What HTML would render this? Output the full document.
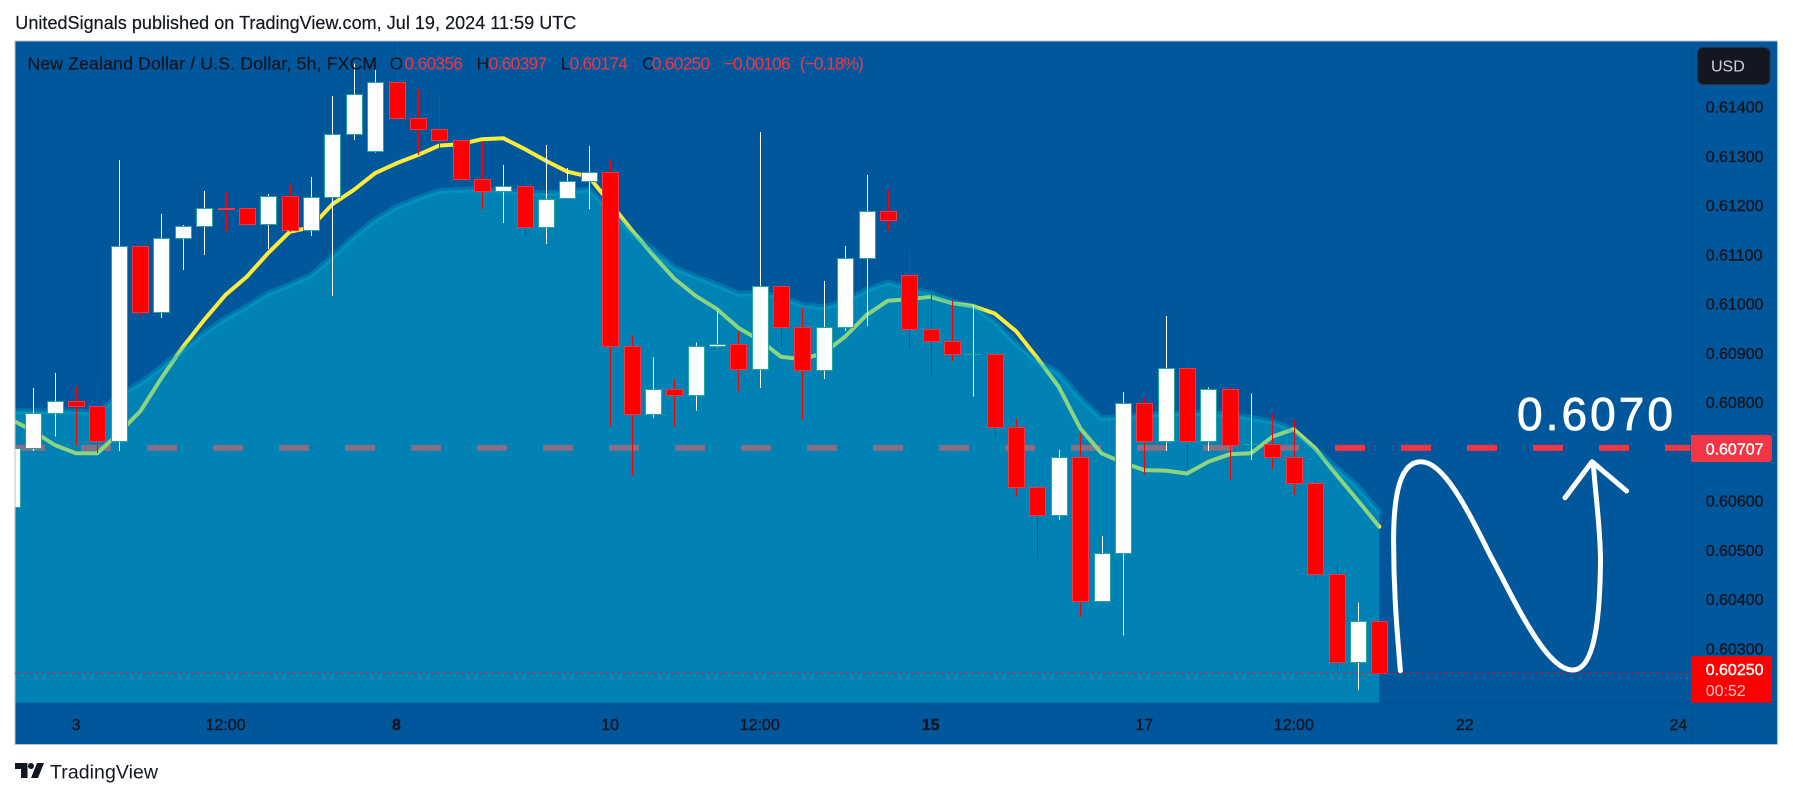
<!DOCTYPE html>
<html lang="en">
<head>
<meta charset="utf-8">
<title>NZD/USD chart</title>
<style>
html,body{margin:0;padding:0;background:#fff;width:1793px;height:798px;overflow:hidden}
svg{display:block;font-family:"Liberation Sans",sans-serif}
</style>
</head>
<body>
<svg id="chart" xmlns="http://www.w3.org/2000/svg" width="1793" height="798" viewBox="0 0 1793 798">
  <defs>
    <clipPath id="pane-clip"><rect x="15.5" y="41.5" width="1675.5" height="661.2"/></clipPath>
  </defs>
  <text x="15.3" y="29" font-size="18" fill="#131722" stroke="#131722" stroke-width="0.2" textLength="561" lengthAdjust="spacing">UnitedSignals published on TradingView.com, Jul 19, 2024 11:59 UTC</text>
  <rect x="15" y="41" width="1762.5" height="703.5" fill="#00579c" stroke="#b7c1d0" stroke-width="1"/>
  <g id="under-area" clip-path="url(#pane-clip)"></g>
  <g id="area-layer" clip-path="url(#pane-clip)"></g>
  <g id="candle-layer" clip-path="url(#pane-clip)"></g>
  <g id="overlay-layer"></g>
  <line x1="1691" y1="41.5" x2="1691" y2="744" stroke="#00508f" stroke-width="1"/>
  <line x1="1379" y1="702.7" x2="1777" y2="702.7" stroke="#00508f" stroke-width="1"/>
  <g font-size="17.5">
    <text x="27.5" y="69.5" fill="#131722" stroke="#131722" stroke-width="0.3" textLength="349.5" lengthAdjust="spacing">New Zealand Dollar / U.S. Dollar, 5h, FXCM</text>
    <text x="389.6" y="69.5" fill="#131722">O</text>
    <text x="404.5" y="69.5" fill="#f23645" textLength="58.5">0.60356</text>
    <text x="476.5" y="69.5" fill="#131722">H</text>
    <text x="488.7" y="69.5" fill="#f23645" textLength="58.5">0.60397</text>
    <text x="560.6" y="69.5" fill="#131722">L</text>
    <text x="569.5" y="69.5" fill="#f23645" textLength="58.5">0.60174</text>
    <text x="642" y="69.5" fill="#131722">C</text>
    <text x="651.7" y="69.5" fill="#f23645" textLength="58.5">0.60250</text>
    <text x="723.6" y="69.5" fill="#f23645" textLength="67">−0.00106</text>
    <text x="799.8" y="69.5" fill="#f23645" textLength="64">(−0.18%)</text>
  </g>
  <g id="axis-labels" font-size="16" fill="#131722" stroke="#131722" stroke-width="0.4"></g>
  <g>
    <rect x="1697.5" y="47.5" width="72.5" height="37" rx="6" fill="#131722" stroke="#2a2e39" stroke-width="1"/>
    <text x="1711" y="71.5" font-size="16" fill="#d1d4dc">USD</text>
  </g>
  <g>
    <path d="M1691 435 H1769 a3 3 0 0 1 3 3 V459 a3 3 0 0 1 -3 3 H1691 Z" fill="#f23645"/>
    <text x="1705.7" y="454.5" font-size="16" fill="#fff" stroke="#fff" stroke-width="0.4">0.60707</text>
  </g>
  <g>
    <rect x="1691" y="656" width="81" height="46.7" fill="#ff0000"/>
    <text x="1705.7" y="675" font-size="16" fill="#fff" stroke="#fff" stroke-width="0.4">0.60250</text>
    <text x="1705.7" y="696" font-size="16" fill="#ffc4c4">00:52</text>
  </g>
  <g fill="none" stroke="#fff" stroke-width="5" stroke-linecap="round" stroke-linejoin="round">
    <path d="M1400.4 670.7 C1396 620 1393.6 585 1393.6 540 C1393.6 495 1400 461.7 1421 461.7 C1445 461.7 1470 515 1491 556.7 C1512 595 1545 670 1572.5 670 C1592 670 1600 630 1600.5 560 C1600.5 530 1595 490 1593.3 463.3"/>
    <path d="M1565 497.7 L1592 461.7 L1626.6 491"/>
  </g>
  <text x="1517" y="430" font-size="46" fill="#fff" stroke="#fff" stroke-width="0.8" textLength="156" lengthAdjust="spacing">0.6070</text>
  <g>
    <path d="M15 763 H27.5 V778 H21 V769 H15 Z M37 763 H44 L38 778 H31 Z" fill="#131722"/>
    <circle cx="31" cy="766" r="3" fill="#131722"/>
    <text x="50" y="778.5" font-size="19.5" fill="#131722" textLength="108" lengthAdjust="spacing">TradingView</text>
  </g>
</svg>
<script>
// Bars run from index -1 (partly clipped at the left edge) up to 63.
const opens = [0.60587,0.60706,0.60777,0.60803,0.60793,0.60721,0.61118,0.60984,0.61134,0.61157,0.61195,0.61194,0.61161,0.61218,0.61150,0.61216,0.61344,0.61311,0.61451,0.61378,0.61354,0.61332,0.61254,0.61228,0.61238,0.61155,0.61214,0.61250,0.61268,0.60913,0.60775,0.60826,0.60815,0.60913,0.60919,0.60868,0.61035,0.60952,0.60865,0.60952,0.61092,0.61188,0.61058,0.60948,0.60925,0.60897,0.60897,0.60749,0.60627,0.60570,0.60688,0.60397,0.60494,0.60798,0.60722,0.60870,0.60721,0.60826,0.60714,0.60714,0.60688,0.60635,0.60450,0.60272,0.60356];
const highs = [0.60706,0.60829,0.60859,0.60833,0.60847,0.61292,0.61118,0.61182,0.61160,0.61229,0.61227,0.61200,0.61223,0.61243,0.61257,0.61422,0.61488,0.61475,0.61560,0.61436,0.61424,0.61344,0.61329,0.61282,0.61271,0.61322,0.61275,0.61320,0.61293,0.60936,0.60891,0.60847,0.60921,0.60985,0.60943,0.61349,0.61039,0.60991,0.61046,0.61117,0.61261,0.61231,0.61110,0.61021,0.61005,0.60997,0.60899,0.60767,0.60634,0.60703,0.60737,0.60528,0.60821,0.60808,0.60975,0.60894,0.60830,0.60830,0.60818,0.60776,0.60764,0.60642,0.60473,0.60393,0.60397];
const lows = [0.60587,0.60701,0.60730,0.60711,0.60697,0.60701,0.60976,0.60971,0.61068,0.61099,0.61147,0.61157,0.61111,0.61146,0.61137,0.61016,0.61332,0.61307,0.61374,0.61302,0.61305,0.61233,0.61192,0.61164,0.61139,0.61121,0.61214,0.61192,0.60750,0.60651,0.60768,0.60750,0.60783,0.60911,0.60823,0.60829,0.60913,0.60765,0.60847,0.60944,0.60955,0.61148,0.60908,0.60852,0.60884,0.60811,0.60728,0.60608,0.60481,0.60561,0.60364,0.60397,0.60326,0.60653,0.60701,0.60664,0.60701,0.60643,0.60682,0.60664,0.60611,0.60435,0.60255,0.60215,0.60174];
const closes = [0.60706,0.60777,0.60803,0.60793,0.60721,0.61118,0.60984,0.61134,0.61157,0.61195,0.61194,0.61161,0.61218,0.61150,0.61216,0.61344,0.61426,0.61451,0.61378,0.61354,0.61332,0.61254,0.61228,0.61238,0.61155,0.61213,0.61250,0.61268,0.60913,0.60775,0.60826,0.60815,0.60913,0.60919,0.60868,0.61035,0.60952,0.60865,0.60952,0.61092,0.61188,0.61170,0.60948,0.60925,0.60897,0.60897,0.60749,0.60627,0.60570,0.60688,0.60397,0.60494,0.60798,0.60722,0.60870,0.60721,0.60826,0.60713,0.60714,0.60688,0.60635,0.60450,0.60272,0.60356,0.60250];
const fastAverage = [0.60764,0.60741,0.60713,0.60696,0.60696,0.60737,0.60781,0.60849,0.60912,0.60967,0.61018,0.61055,0.61103,0.61146,0.61155,0.61202,0.61231,0.61265,0.61285,0.61302,0.61321,0.61324,0.61334,0.61336,0.61314,0.61290,0.61268,0.61258,0.61204,0.61150,0.61099,0.61051,0.61016,0.60989,0.60951,0.60926,0.60892,0.60887,0.60900,0.60933,0.60977,0.61006,0.61009,0.61014,0.61001,0.60995,0.60980,0.60944,0.60889,0.60831,0.60747,0.60696,0.60677,0.60662,0.60661,0.60655,0.60679,0.60694,0.60696,0.60730,0.60745,0.60706,0.60652,0.60600,0.60547];
const slowAverage = [0.60781,0.60781,0.60781,0.60781,0.60777,0.60814,0.60838,0.60871,0.60906,0.60940,0.60970,0.60994,0.61021,0.61038,0.61058,0.61095,0.61136,0.61170,0.61196,0.61214,0.61229,0.61231,0.61232,0.61229,0.61225,0.61224,0.61227,0.61232,0.61190,0.61146,0.61109,0.61073,0.61055,0.61038,0.61020,0.61021,0.61014,0.60997,0.60993,0.61004,0.61028,0.61043,0.61031,0.61021,0.61004,0.60995,0.60963,0.60919,0.60882,0.60859,0.60808,0.60767,0.60770,0.60774,0.60777,0.60778,0.60778,0.60774,0.60768,0.60760,0.60743,0.60706,0.60666,0.60628,0.60577];
const priceTicks = [0.614,0.613,0.612,0.611,0.61,0.609,0.608,0.606,0.605,0.604,0.603];
const timeLabels = ["3","12:00","8","10","12:00","15","17","12:00","22","24"];
const timeLabelBars = [2,9,17,27,34,42,52,59,67,77];
const timeLabelBold = [false,false,true,false,false,true,false,false,false,false];
const targetPrice = 0.60707;
const lastPrice = 0.6025;

const NS = 'http://www.w3.org/2000/svg';
const firstBar = -1;
const paneTop = 41;
const paneBottom = 702.7;
const paneLeft = 15;
const paneRight = 1691;
function xScale(bar) { return 33.3 + bar * 21.365; }
function yScale(price) { return 106.7 + (0.614 - price) * 49236; }
function make(tag, attrs, parent) {
  const el = document.createElementNS(NS, tag);
  for (const k in attrs) el.setAttribute(k, attrs[k]);
  parent.appendChild(el);
  return el;
}
function linePoints(values) {
  return values.map(function (v, i) { return xScale(i + firstBar).toFixed(1) + ',' + yScale(v).toFixed(1); }).join(' ');
}

const under = document.getElementById('under-area');
const areaLayer = document.getElementById('area-layer');
const candleLayer = document.getElementById('candle-layer');
const overlay = document.getElementById('overlay-layer');
const axisLabels = document.getElementById('axis-labels');

// Target level and fast average sit beneath the translucent area.
const targetLine = make('line', { x1: paneLeft, x2: paneRight, y1: yScale(targetPrice), y2: yScale(targetPrice), stroke: '#f23645', 'stroke-width': 6, 'stroke-dasharray': '30 36' }, under);



const fastLine = make('polyline', { points: linePoints(fastAverage), fill: 'none', stroke: '#ffeb3b', 'stroke-width': 4, 'stroke-linejoin': 'round', 'stroke-linecap': 'round' }, under);



const areaPoints = xScale(firstBar).toFixed(1) + ',' + paneBottom + ' ' + linePoints(slowAverage) + ' ' + xScale(firstBar + slowAverage.length - 1).toFixed(1) + ',' + paneBottom;
const areaFill = make('polygon', { points: areaPoints, fill: 'rgba(0,185,210,0.45)' }, areaLayer);



const areaLine = make('polyline', { points: linePoints(slowAverage), fill: 'none', stroke: 'rgba(0,185,210,0.3)', 'stroke-width': 6, 'stroke-linejoin': 'round', 'stroke-linecap': 'round' }, areaLayer);



// Candlesticks.
opens.forEach(function (open, i) {
  const close = closes[i];
  const up = close >= open && close !== open ? true : close === open ? null : false;
  const cx = xScale(i + firstBar);
  const left = Math.round(cx - 8);
  const wickColor = up === false ? '#ff0000' : '#ffffff';
  const group = make('g', { 'shape-rendering': 'crispEdges' }, candleLayer);
  
  
  const wick = make('rect', { x: left + 8, y: yScale(highs[i]), width: 1, height: Math.max(1, yScale(lows[i]) - yScale(highs[i])), fill: wickColor }, group);
  
  
  const top = Math.round(yScale(Math.max(open, close)));
  const bottom = Math.round(yScale(Math.min(open, close)));
  if (up === null) {
    const doji = make('rect', { x: left, y: top, width: 17, height: 1, fill: '#26a69a' }, group);
    
    
  } else if (bottom - top < 2) {
    const thin = make('rect', { x: left, y: top, width: 17, height: 2, fill: up ? '#ffffff' : '#f23645' }, group);
    
    
  } else {
    const body = make('rect', { x: left + 0.5, y: top + 0.5, width: 16, height: bottom - top, fill: up ? '#ffffff' : '#ff0000', stroke: up ? '#26a69a' : '#f23645', 'stroke-width': 1 }, group);
    
    
  }
});

// Last price dotted line.
const lastLine = make('line', { x1: paneLeft, x2: paneRight, y1: Math.round(yScale(lastPrice)) + 0.5, y2: Math.round(yScale(lastPrice)) + 0.5, stroke: '#ff0000', 'stroke-width': 1, 'stroke-dasharray': '1 2' }, overlay);



// Price axis tick labels.
priceTicks.forEach(function (p) {
  const t = make('text', { x: 1705.7, y: yScale(p) + 6 }, axisLabels);
  
  
  t.textContent = p.toFixed(5);
});

// Time axis tick labels.
timeLabels.forEach(function (label, i) {
  const t = make('text', { x: xScale(timeLabelBars[i]), y: 730, 'text-anchor': 'middle', 'font-weight': timeLabelBold[i] ? 'bold' : 'normal' }, axisLabels);
  
  
  t.textContent = label;
});
</script>
</body>
</html>
